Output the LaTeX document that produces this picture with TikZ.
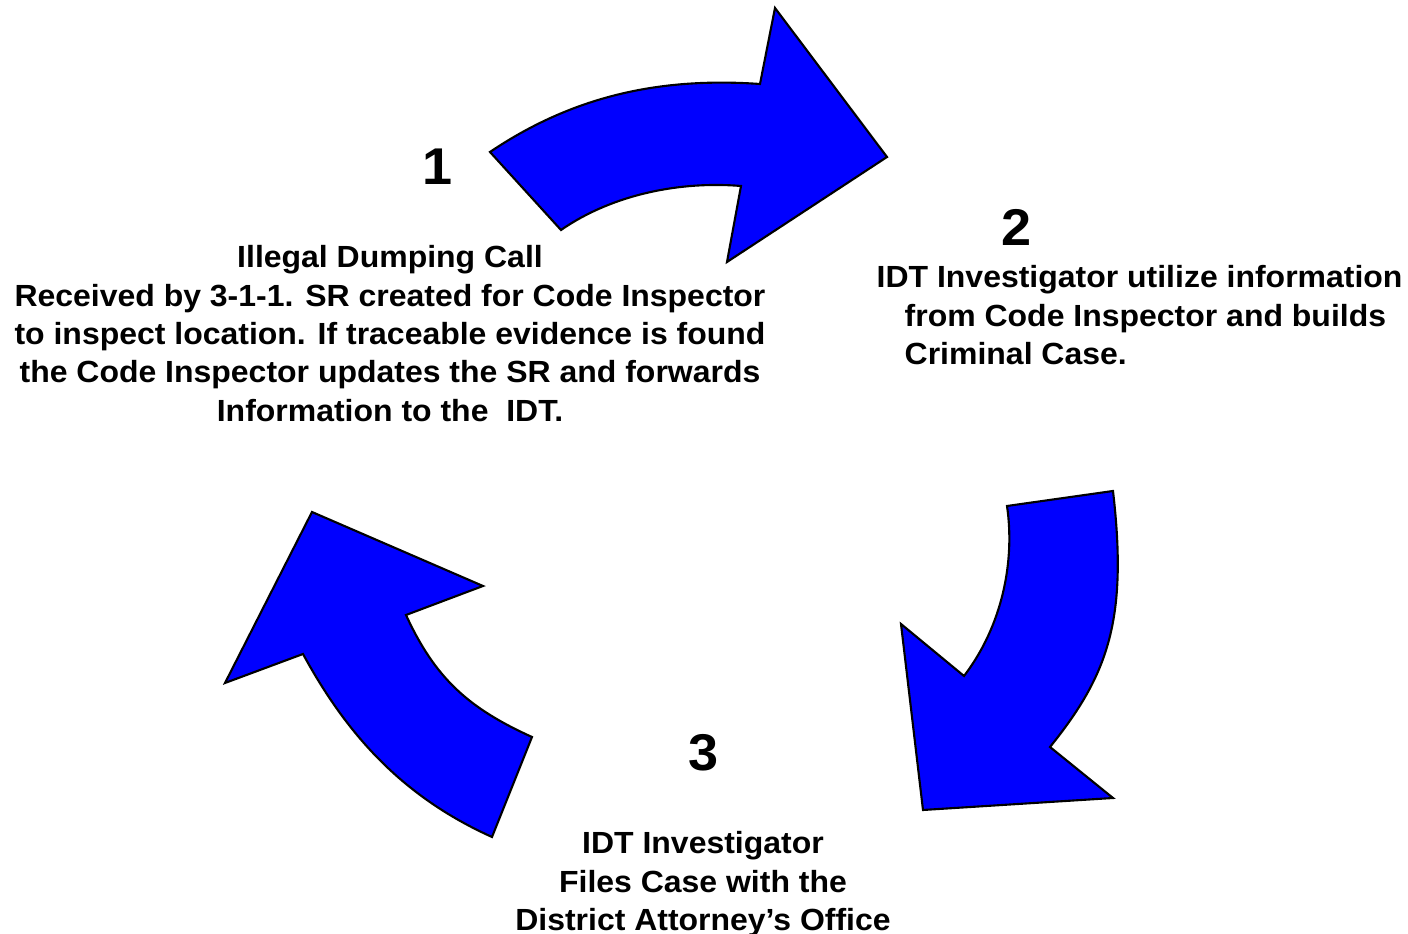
\documentclass[tikz,border=0pt]{standalone}
\usepackage{fontspec}
\setmainfont{Liberation Sans}[FakeStretch=1.045]
\definecolor{cycleblue}{RGB}{0,0,255}
\tikzset{
  cyclearrow/.style={draw=black, fill=cycleblue, line width=0.6pt, line join=miter},
  stepnum/.style={font=\fontsize{14.7}{17}\selectfont\bfseries, inner sep=0pt},
  steptext/.style={font=\fontsize{8.7}{10.9}\selectfont\bfseries, inner sep=0pt}
}
\begin{document}
\begin{tikzpicture}[x=0.01cm, y=-0.01cm]
  \useasboundingbox (0,0) rectangle (1408,934);

  % arrow from step 1 to step 2
  \path[cyclearrow] (490,152) .. controls (573,96) and (660,77) .. (760,84)
    -- (775,8) -- (887,157) -- (727,262) -- (741,186)
    .. controls (681,181) and (613,194) .. (561,230) -- cycle;
  % arrow from step 2 to step 3
  \path[cyclearrow] (1007,506) -- (1113,491)
    .. controls (1128,620) and (1108,675) .. (1050,747)
    -- (1113,798) -- (923,810) -- (901,624) -- (964,676)
    .. controls (1003,625) and (1015,560) .. (1007,506) -- cycle;
  % arrow from step 3 back to step 1
  \path[cyclearrow] (492,837) .. controls (401,796) and (346,733) .. (303,654)
    -- (225,683) -- (312,512) -- (483,586) -- (406,615)
    .. controls (435,678) and (468,708) .. (532,737) -- cycle;

  \node[stepnum] (num1) at (438,167) {1};
  \node[stepnum] (num2) at (1017,227) {2};
  \node[stepnum] (num3) at (704,753) {3};

  \node[steptext, anchor=north, align=center] (text1) at (390,245)
    {Illegal Dumping Call\\
     Received by 3-1-1. SR created for Code Inspector\\
     to inspect location. If traceable evidence is found\\
     the Code Inspector updates the SR and forwards\\
     Information to the\ \ IDT.};
  \node[steptext, anchor=north west, align=left] (text2) at (876,265)
    {IDT Investigator utilize information\\
     \hspace*{0.28cm}from Code Inspector and builds\\
     \hspace*{0.28cm}Criminal Case.};
  \node[steptext, anchor=north, align=center] (text3) at (703,831)
    {IDT Investigator\\
     Files Case with the\\
     District Attorney’s Office};
\end{tikzpicture}
\end{document}
